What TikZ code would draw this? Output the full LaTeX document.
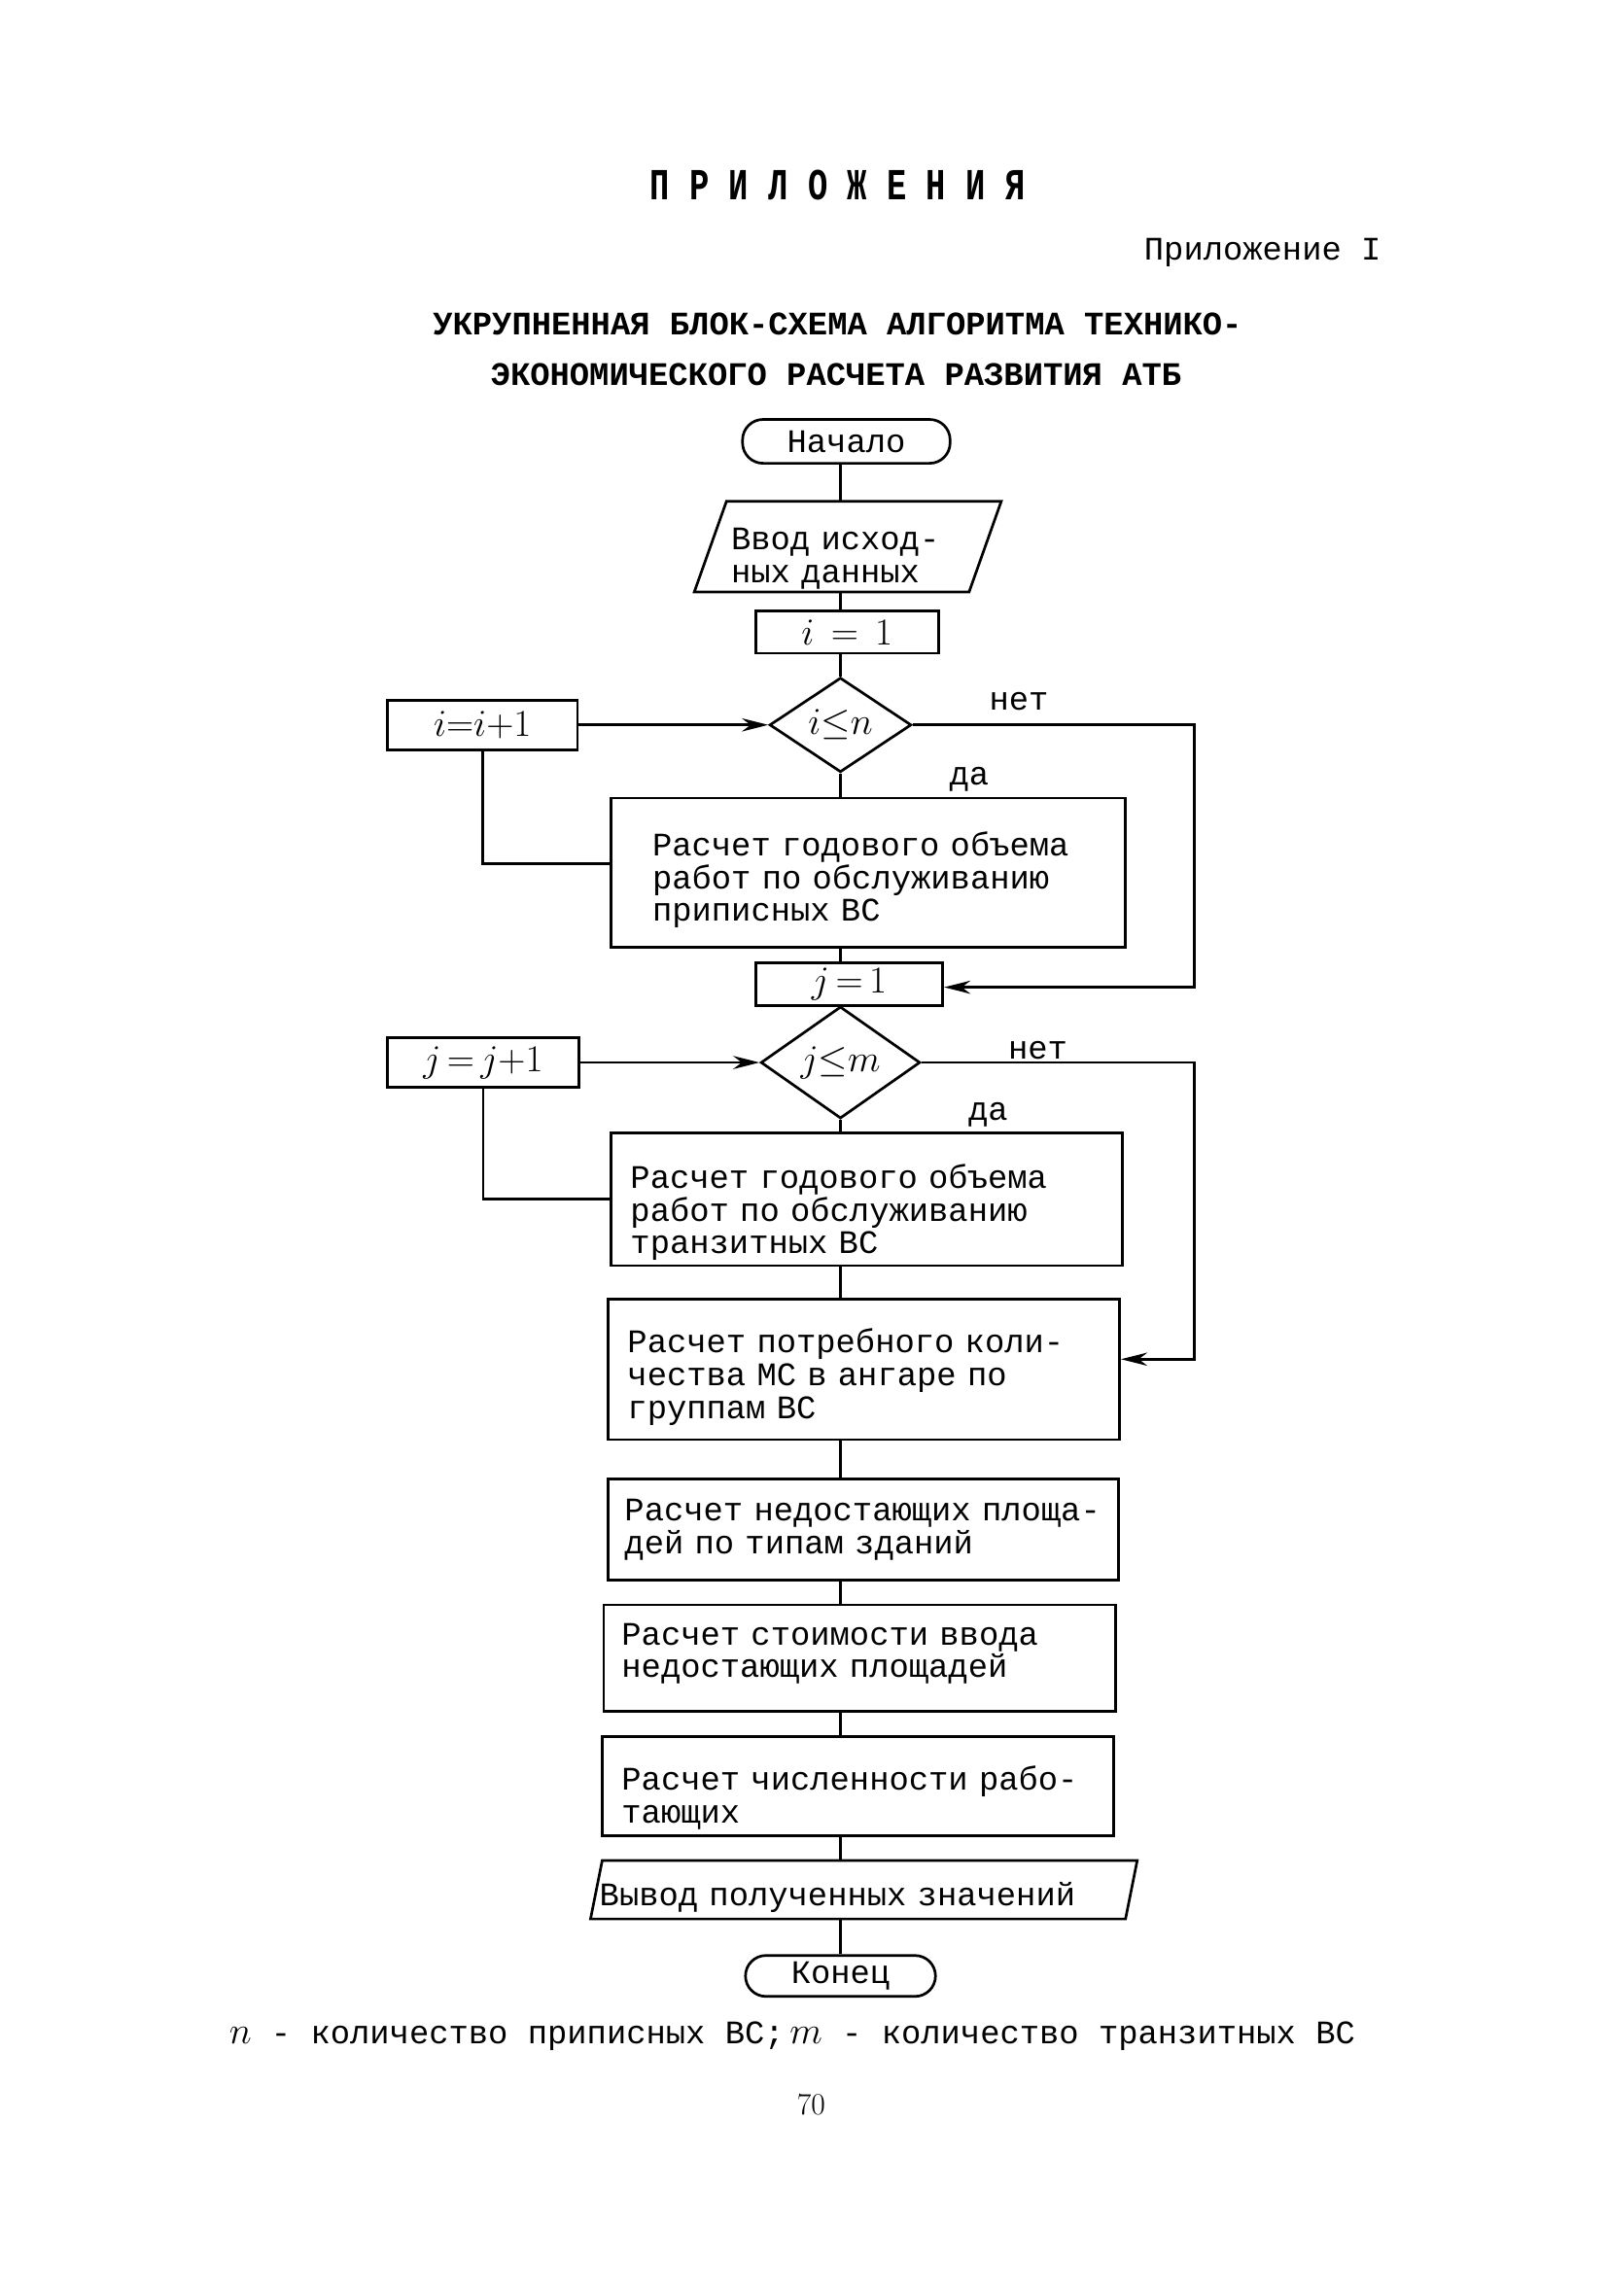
\RequirePackage{fix-cm}
\documentclass[tikz,border=0pt]{standalone}
\usepackage{graphicx}
\usepackage{fontspec}
\newfontfamily\tw{Liberation Mono}
\usetikzlibrary{shapes.geometric,arrows.meta,calc}
\newcommand\hm[1]{{\fontsize{26}{26}\selectfont$#1$}}
\begin{document}
\begin{tikzpicture}[x=1pt,y=-1pt,
  every node/.style={font=\tw\fontsize{22.5}{22.5}\selectfont},
  line/.style={line width=1.8pt},
  arr/.style={line width=1.8pt,-{Stealth[length=18pt,width=9pt]}},
  box/.style={draw,line width=1.8pt,rectangle,inner sep=0pt},
  txt/.style={inner sep=0pt,align=left,anchor=west},
  small/.style={draw,line width=1.8pt,rectangle,inner sep=0pt,align=center},
  term/.style={draw,line width=1.8pt,rectangle,rounded corners=14pt,inner sep=0pt},
  dec/.style={draw,line width=1.8pt,diamond,inner sep=0pt},
  lbl/.style={inner sep=0pt},
  head/.style={inner sep=0pt,font=\tw\bfseries\fontsize{22.5}{22.5}\selectfont}]
\fill[white] (0,0) rectangle (1100,1571);
\useasboundingbox (0,0) rectangle (1100,1571);
\coordinate (tx) at (575,0);
\coordinate (rx) at (817,0);
% headings
\node[head] (t0) at (573,127) {\scalebox{1}[1.35]{П Р И Л О Ж Е Н И Я}};
\node[lbl,anchor=east] (t1) at (945,173) {Приложение I};
\node[head] (h1) at (573,222) {УКРУПНЕННАЯ БЛОК-СХЕМА АЛГОРИТМА ТЕХНИКО-};
\node[head] (h2) at (572,256) {ЭКОНОМИЧЕСКОГО РАСЧЕТА РАЗВИТИЯ АТБ};
% main column
\node[term,minimum width=142pt,minimum height=30pt] (start) at (579,302) {Начало};
\node[lbl,minimum width=166pt,minimum height=62pt] (input) at (580,374) {};
\draw[line] (497,343) -- (685,343) -- (663,405) -- (475,405) -- cycle;
\node[txt,text width=170pt] (inputt) at (500,382) {Ввод исход-\\ных данных};
\node[small,minimum width=125pt,minimum height=29pt] (i1) at (579.5,432.5) {\hm{i\,=\,1}};
\node[dec,minimum width=97pt,minimum height=55pt] (d1) at (575,496) {\hm{i{\leq}n}};
\node[small,minimum width=130pt,minimum height=34pt] (inc1) at (330,496) {\hm{i{=}i{+}1}};
\node[box,minimum width=352pt,minimum height=102pt] (b1) at (594,597) {};
\node[txt,text width=300pt] (b1t) at ([xshift=29pt,yshift=-5pt]b1.west)
  {\mbox{Расчет годового объема}\\\mbox{работ по обслуживанию}\\\mbox{приписных ВС}};
\node[small,minimum width=128pt,minimum height=29pt] (j1) at (581,673.5) {\hm{j\,{=}\,1}};
\node[dec,minimum width=109pt,minimum height=48pt] (d2) at (575,727) {\hm{j{\leq}m}};
\node[small,minimum width=131pt,minimum height=34pt] (inc2) at (330.5,727) {\hm{j\,{=}\,j{+}1}};
\node[box,minimum width=350pt,minimum height=91pt] (b2) at (593,820.5) {};
\node[txt,text width=330pt] (b2t) at ([xshift=14pt,yshift=-9pt]b2.west)
  {\mbox{Расчет годового объема}\\\mbox{работ по обслуживанию}\\\mbox{транзитных ВС}};
\node[box,minimum width=350pt,minimum height=96pt] (b3) at (591,937) {};
\node[txt,text width=330pt] (b3t) at ([xshift=14pt,yshift=-5pt]b3.west)
  {\mbox{Расчет потребного коли-}\\\mbox{чества МС в ангаре по}\\\mbox{группам ВС}};
\node[box,minimum width=349pt,minimum height=69pt] (b4) at (590.5,1046.5) {};
\node[txt,text width=340pt] (b4t) at ([xshift=12pt]b4.west)
  {\mbox{Расчет недостающих площа-}\\\mbox{дей по типам зданий}};
\node[box,minimum width=350pt,minimum height=73pt] (b5) at (588,1134.5) {};
\node[txt,text width=330pt] (b5t) at ([xshift=13pt,yshift=3pt]b5.west)
  {\mbox{Расчет стоимости ввода}\\\mbox{недостающих площадей}};
\node[box,minimum width=350pt,minimum height=68pt] (b6) at (587,1222) {};
\node[txt,text width=330pt] (b6t) at ([xshift=14pt,yshift=-8pt]b6.west)
  {\mbox{Расчет численности рабо-}\\\mbox{тающих}};
\node[lbl,minimum width=366pt,minimum height=40pt] (out) at (591,1293) {};
\draw[line] (412,1273) -- (778,1273) -- (770,1313) -- (404,1313) -- cycle;
\node[txt,text width=360pt] (outt) at (410,1298) {Вывод полученных значений};
\node[term,minimum width=130pt,minimum height=28pt] (end) at (575,1352) {Конец};
% trunk connectors
\draw[line] (start.south -| tx) -- (input.north -| tx);
\draw[line] (input.south -| tx) -- (i1.north -| tx);
\draw[line] (i1.south -| tx) -- (d1.north);
\draw[line] (d1.south) -- (b1.north -| tx);
\draw[line] (b1.south -| tx) -- (j1.north -| tx);
\draw[line] (j1.south -| tx) -- (d2.north);
\draw[line] (d2.south) -- (b2.north -| tx);
\draw[line] (b2.south -| tx) -- (b3.north -| tx);
\draw[line] (b3.south -| tx) -- (b4.north -| tx);
\draw[line] (b4.south -| tx) -- (b5.north -| tx);
\draw[line] (b5.south -| tx) -- (b6.north -| tx);
\draw[line] (b6.south -| tx) -- (out.north -| tx);
\draw[line] (out.south -| tx) -- (end.north -| tx);
% branches
\draw[arr] (d1.east) -- (d1.east -| rx) -- ([yshift=-2pt]j1.east -| rx) -- ([yshift=-2pt]j1.east);
\draw[arr] (d2.east) -- (d2.east -| rx) -- ([yshift=7pt]b3.east -| rx) -- ([yshift=7pt]b3.east);
\draw[line] ([yshift=6pt]b1.west) -| (inc1.south);
\draw[arr] (inc1.east) -- (d1.west);
\draw[line] (b2.west) -| (inc2.south);
\draw[arr] (inc2.east) -- (d2.west);
% labels
\node[lbl] (no1) at (697,480) {нет};
\node[lbl] (yes1) at (663,533) {да};
\node[lbl] (no2) at (710,719) {нет};
\node[lbl] (yes2) at (676,763) {да};
% footnote
\node[lbl] (fn) at (542,1393) {\hm{n} - количество приписных ВС;\,\hm{m} - количество транзитных ВС};
\node[lbl,font=\rmfamily\fontsize{21}{21}\selectfont] (pg) at (555,1440) {70};
\end{tikzpicture}
\end{document}
